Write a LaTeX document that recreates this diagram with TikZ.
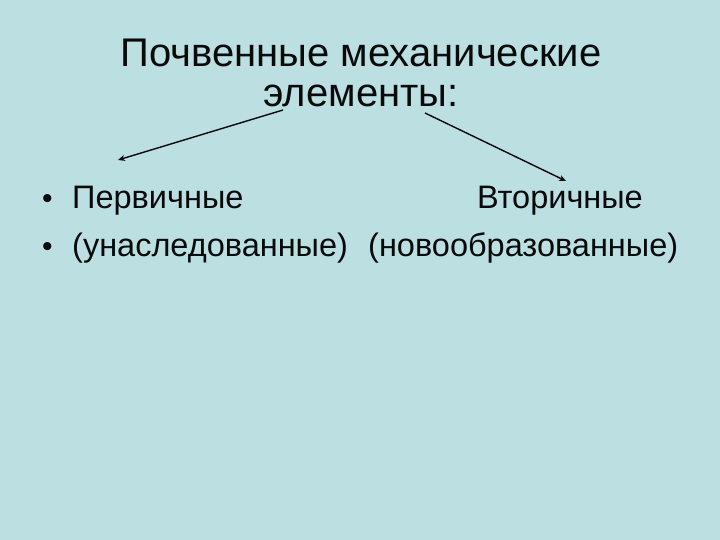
\documentclass[tikz,border=0pt]{standalone}
\usepackage{fontspec}
\setmainfont{Liberation Sans}
\usetikzlibrary{arrows.meta}
\definecolor{bg}{RGB}{188,223,226}
\definecolor{ink}{RGB}{10,10,10}
\tikzset{
  title/.style={font=\fontsize{40}{40}\selectfont, text=ink, inner sep=0pt, anchor=base},
  body/.style={font=\fontsize{32.5}{32.5}\selectfont, text=ink, inner sep=0pt, anchor=base west},
  bul/.style={font=\fontsize{30}{30}\selectfont, text=ink, inner sep=0pt, anchor=base west},
  conn/.style={draw=ink, line width=1.4pt, -{Stealth[length=7pt,width=6pt]}}
}
\begin{document}
\begin{tikzpicture}[x=1pt,y=-1pt]
\fill[bg] (0,0) rectangle (720,540);
\useasboundingbox (0,0) rectangle (720,540);
\node[title] (t1) at (361,67) {Почвенные механические};
\node[title] (t2) at (361,107) {элементы:};
\node[bul] (b1) at (42,208) {•};
\node[bul] (b2) at (42,256) {•};
\node[body] (p1) at (72,208) {Первичные};
\node[body] (p2) at (72,256) {(унаследованные)};
\node[body, anchor=base east] (v1) at (643,208) {Вторичные};
\node[body] (v2) at (368,256) {(новообразованные)};
\coordinate (a1s) at (283,110);
\coordinate (a1e) at (118,160);
\coordinate (a2s) at (425,113);
\coordinate (a2e) at (566,181);
\draw[conn] (a1s) -- (a1e);
\draw[conn] (a2s) -- (a2e);
\end{tikzpicture}
\end{document}
